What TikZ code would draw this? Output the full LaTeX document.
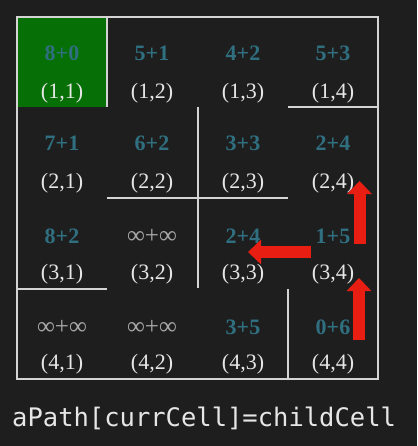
\documentclass[tikz,border=0pt]{standalone}
\usepackage{fontspec}
\setmainfont{Liberation Serif}
\newfontfamily\codefont{DejaVu Sans Mono}
\usetikzlibrary{arrows.meta}
\definecolor{bgc}{HTML}{1E1E1E}
\definecolor{wallc}{HTML}{D4D4D4}
\definecolor{costc}{HTML}{2F6F80}
\definecolor{infc}{HTML}{A8A8A8}
\definecolor{coordc}{HTML}{E6E6E6}
\definecolor{startc}{HTML}{067006}
\definecolor{arrc}{HTML}{E81E12}
\tikzset{
  wall/.style={draw=wallc, line width=2pt},
  cost/.style={text=costc, font=\fontsize{22}{22}\selectfont\bfseries, inner sep=0pt},
  infcost/.style={text=infc, font=\fontsize{25}{25}\selectfont, inner sep=0pt},
  cellid/.style={text=coordc, font=\fontsize{22}{22}\selectfont, inner sep=0pt},
  patharrow/.style={draw=arrc, line width=12pt, -{Triangle[width=24pt,length=13pt]}},
}
\begin{document}
\begin{tikzpicture}[x=1pt,y=-1pt]
\fill[bgc] (0,0) rectangle (417,446);
\useasboundingbox (0,0) rectangle (417,446);
% start cell
\fill[startc] (17,17) rectangle (107,107);
% outer border
\draw[wall] (17,17) rectangle (378,379);
% inner walls
\draw[wall] (107,17) -- (107,107);
\draw[wall] (198,107) -- (198,288);
\draw[wall] (107,198) -- (288,198);
\draw[wall] (288,107) -- (378,107);
\draw[wall] (17,289) -- (107,289);
\draw[wall] (288,289) -- (288,379);
% row 1
\node[cost] (c11) at (62,53) {8+0};
\node[cost] (c12) at (152,53) {5+1};
\node[cost] (c13) at (243,53) {4+2};
\node[cost] (c14) at (333,53) {5+3};
\node[cellid] (p11) at (62,93) {(1,1)};
\node[cellid] (p12) at (152,93) {(1,2)};
\node[cellid] (p13) at (243,93) {(1,3)};
\node[cellid] (p14) at (333,93) {(1,4)};
% row 2
\node[cost] (c21) at (62,143) {7+1};
\node[cost] (c22) at (152,143) {6+2};
\node[cost] (c23) at (243,143) {3+3};
\node[cost] (c24) at (333,143) {2+4};
\node[cellid] (p21) at (62,183) {(2,1)};
\node[cellid] (p22) at (152,183) {(2,2)};
\node[cellid] (p23) at (243,183) {(2,3)};
\node[cellid] (p24) at (333,183) {(2,4)};
% row 3
\node[cost] (c31) at (62,236) {8+2};
\node[infcost] (c32) at (152,236) {∞+∞};
\node[cost] (c33) at (243,236) {2+4};
\node[cost] (c34) at (333,236) {1+5};
\node[cellid] (p31) at (62,274) {(3,1)};
\node[cellid] (p32) at (152,274) {(3,2)};
\node[cellid] (p33) at (243,274) {(3,3)};
\node[cellid] (p34) at (333,274) {(3,4)};
% row 4
\node[infcost] (c41) at (62,327) {∞+∞};
\node[infcost] (c42) at (152,327) {∞+∞};
\node[cost] (c43) at (243,327) {3+5};
\node[cost] (c44) at (333,327) {0+6};
\node[cellid] (p41) at (62,364) {(4,1)};
\node[cellid] (p42) at (152,364) {(4,2)};
\node[cellid] (p43) at (243,364) {(4,3)};
\node[cellid] (p44) at (333,364) {(4,4)};
% path arrows
\coordinate (a1s) at (359,340);
\coordinate (a1e) at (359,278);
\coordinate (a2s) at (359.5,244);
\coordinate (a2e) at (359.5,181);
\coordinate (a3s) at (311,252);
\coordinate (a3e) at (248,252);
\draw[patharrow] (a1s) -- (a1e);
\draw[patharrow] (a2s) -- (a2e);
\draw[patharrow] (a3s) -- (a3e);
% caption
\node[text=coordc, font=\codefont\fontsize{25.5}{25.5}\selectfont, inner sep=0pt, anchor=west] (cap) at (12,418) {aPath[currCell]=childCell};
\end{tikzpicture}
\end{document}
